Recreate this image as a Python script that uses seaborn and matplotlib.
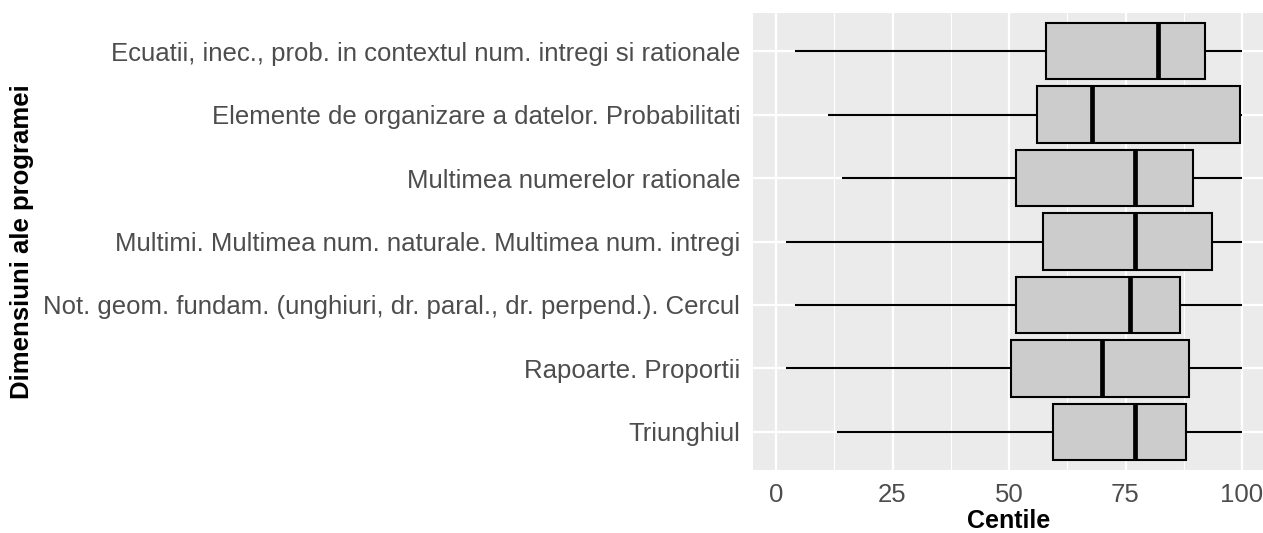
import numpy as np
import pandas as pd
import seaborn as sns
import matplotlib.pyplot as plt
from matplotlib.ticker import MultipleLocator

# %% Data (five-number summaries)

dimensiuni = [
    "Ecuatii, inec., prob. in contextul num. intregi si rationale",
    "Elemente de organizare a datelor. Probabilitati",
    "Multimea numerelor rationale",
    "Multimi. Multimea num. naturale. Multimea num. intregi",
    "Not. geom. fundam. (unghiuri, dr. paral., dr. perpend.). Cercul",
    "Rapoarte. Proportii",
    "Triunghiul",
]
c_min = [4.1, 11.1, 14.1, 2.1, 4.1, 2.1, 13.1]
c_q1 = [57.9, 56.0, 51.4, 57.4, 51.4, 50.5, 59.4]
c_med = [82.0, 67.9, 77.0, 77.0, 76.0, 70.0, 77.0]
c_q3 = [92.0, 99.6, 89.5, 93.6, 86.6, 88.6, 88.0]
c_max = [100, 100, 100, 100, 100, 100, 100]

rows = []
for i, d in enumerate(dimensiuni):
    for v in (c_min[i], c_q1[i], c_med[i], c_q3[i], c_max[i]):
        rows.append({"dimensiune": d, "centile": v})
df = pd.DataFrame(rows)

# %% Plot

sns.set_style("darkgrid", {"axes.facecolor": "#EBEBEB", "grid.color": "white"})
plt.rcParams["font.family"] = ["Liberation Sans", "DejaVu Sans"]

fig = plt.figure(figsize=(12.63, 5.33), dpi=100)
ax = fig.add_axes([752.7 / 1263, 63 / 533, 512.6 / 1263, 457 / 533])

# whis=(0, 100) -> whiskers go to min / max, like the ggplot original
sns.boxplot(data=df, x="centile", y="dimensiune", order=dimensiuni, ax=ax,
            whis=(0, 100), width=0.89, color="#CCCCCC", saturation=1,
            linecolor="black", linewidth=1.5, showcaps=False,
            medianprops={"linewidth": 3.4, "color": "black"})

ax.set_xlim(-5, 105)
ax.set_ylim(6.6, -0.6)
ax.xaxis.set_major_locator(MultipleLocator(25))
ax.xaxis.set_minor_locator(MultipleLocator(12.5))
ax.grid(which="major", color="white", linewidth=1.6)
ax.grid(which="minor", axis="x", color="white", linewidth=0.8)
ax.set_axisbelow(True)
for s in ax.spines.values():
    s.set_visible(False)

ax.tick_params(axis="both", which="major", length=5, width=1.4, color="#333333",
               labelcolor="#4D4D4D", labelsize=18.5, pad=4)
ax.tick_params(axis="x", which="minor", length=0)
ax.set_xlabel("Centile", fontsize=18, fontweight="bold", color="black", labelpad=2)
ax.set_ylabel("")
fig.text(22 / 1263, 1 - 241.6 / 533, "Dimensiuni ale programei", rotation=90,
         ha="center", va="center", fontsize=18.5, fontweight="bold", color="black")

fig.savefig("out.png", dpi=100)
